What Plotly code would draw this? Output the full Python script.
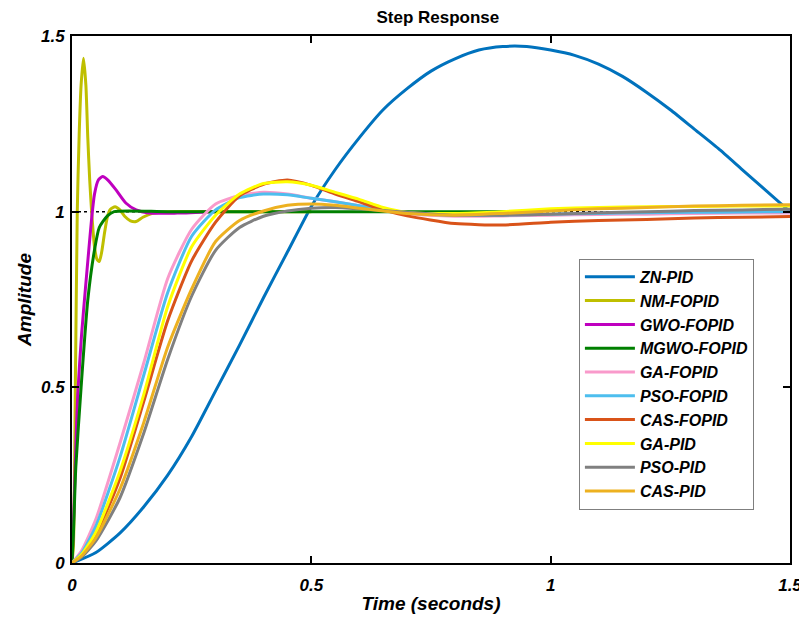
import plotly.graph_objects as go

# --- data (time in s, amplitude) ---
t_zn = [0, 0.05, 0.1, 0.15, 0.2, 0.25, 0.3, 0.35, 0.4, 0.45, 0.5, 0.55, 0.6, 0.65,
        0.7, 0.75, 0.8, 0.85, 0.9, 0.95, 1.0, 1.05, 1.1, 1.15, 1.2, 1.25, 1.3,
        1.35, 1.4, 1.45, 1.5]
zn_pid = [0, 0.03, 0.085, 0.16, 0.25, 0.36, 0.49, 0.62, 0.755, 0.885, 1.015, 1.12,
          1.21, 1.29, 1.35, 1.40, 1.435, 1.46, 1.47, 1.47, 1.46, 1.445, 1.42, 1.385,
          1.34, 1.29, 1.235, 1.18, 1.12, 1.06, 1.0]

t_nm = [0, 0.003, 0.007, 0.011, 0.015, 0.019, 0.024, 0.029, 0.033, 0.037, 0.041,
        0.047, 0.052, 0.057, 0.062, 0.068, 0.074, 0.08, 0.09, 0.1, 0.11, 0.122,
        0.134, 0.148, 0.168, 0.2, 0.3, 0.5]
nm_fopid = [0, 0.05, 0.5, 1.0, 1.22, 1.36, 1.437, 1.36, 1.21, 1.09, 1.0, 0.9, 0.865,
            0.858, 0.885, 0.94, 0.985, 1.006, 1.014, 1.005, 0.987, 0.974, 0.972,
            0.984, 0.995, 1.0, 1.0, 1.0]

t_gwo = [0, 0.004, 0.008, 0.012, 0.02, 0.028, 0.035, 0.041, 0.047, 0.055, 0.064,
         0.075, 0.092, 0.113, 0.134, 0.16, 0.22, 0.3]
gwo_fopid = [0, 0.15, 0.33, 0.48, 0.65, 0.78, 0.89, 0.98, 1.05, 1.09, 1.10, 1.09,
             1.062, 1.024, 1.005, 0.996, 0.996, 1.0]

t_mgwo = [0, 0.003, 0.008, 0.019, 0.033, 0.047, 0.057, 0.074, 0.088, 0.2, 0.5, 0.94]
mgwo_fopid = [0, 0.085, 0.274, 0.5, 0.749, 0.891, 0.955, 0.988, 1.0, 1.0, 1.0, 1.0]

t_slow = [0, 0.02, 0.05, 0.1, 0.15, 0.2, 0.25, 0.3, 0.35, 0.4, 0.45, 0.5, 0.55, 0.6,
          0.65, 0.7, 0.8, 0.9, 1.0, 1.1, 1.2, 1.3, 1.4, 1.5]
ga_fopid = [0, 0.035, 0.125, 0.34, 0.57, 0.81, 0.95, 1.022, 1.046, 1.055, 1.05, 1.038,
            1.028, 1.017, 1.005, 0.995, 0.987, 0.988, 0.99, 0.992, 0.993, 0.995,
            0.996, 0.996]
pso_fopid = [0, 0.028, 0.105, 0.30, 0.535, 0.77, 0.93, 1.005, 1.04, 1.05, 1.048, 1.038,
             1.028, 1.017, 1.006, 0.997, 0.99, 0.99, 0.993, 0.995, 0.997, 0.998,
             0.999, 1.0]
cas_fopid = [0, 0.022, 0.08, 0.24, 0.46, 0.69, 0.86, 0.97, 1.045, 1.078, 1.09, 1.075,
             1.05, 1.028, 1.005, 0.988, 0.966, 0.962, 0.97, 0.975, 0.978, 0.982,
             0.984, 0.986]
ga_pid = [0, 0.024, 0.088, 0.26, 0.48, 0.73, 0.9, 0.99, 1.05, 1.08, 1.085, 1.075,
          1.055, 1.035, 1.012, 0.998, 0.995, 1.0, 1.008, 1.012, 1.014, 1.015, 1.016,
          1.016]
pso_pid = [0, 0.017, 0.063, 0.185, 0.37, 0.58, 0.76, 0.89, 0.955, 0.987, 1.002, 1.01,
           1.012, 1.008, 1.003, 0.998, 0.99, 0.99, 0.993, 0.997, 1.0, 1.003, 1.005,
           1.007]
cas_pid = [0, 0.02, 0.072, 0.21, 0.4, 0.615, 0.78, 0.915, 0.975, 1.002, 1.018, 1.022,
           1.018, 1.01, 1.002, 0.995, 0.99, 0.995, 1.002, 1.008, 1.012, 1.016, 1.018,
           1.02]

series = [
    ("ZN-PID", t_zn, zn_pid, "#0072BD"),
    ("NM-FOPID", t_nm, nm_fopid, "#BFBF00"),
    ("GWO-FOPID", t_gwo, gwo_fopid, "#BF00BF"),
    ("MGWO-FOPID", t_mgwo, mgwo_fopid, "#008000"),
    ("GA-FOPID", t_slow, ga_fopid, "#F99ACB"),
    ("PSO-FOPID", t_slow, pso_fopid, "#4DBEEE"),
    ("CAS-FOPID", t_slow, cas_fopid, "#D95319"),
    ("GA-PID", t_slow, ga_pid, "#FFFF00"),
    ("PSO-PID", t_slow, pso_pid, "#808080"),
    ("CAS-PID", t_slow, cas_pid, "#EDB120"),
]

_FAM = "Liberation Sans, Arial, sans-serif"
_TICK = dict(family=_FAM, size=17, color="#000000", weight="bold", style="italic")
_LBL = dict(family=_FAM, size=19, color="#000000", weight="bold", style="italic")

fig = go.Figure()
for name, t, y, col in series:
    fig.add_trace(go.Scatter(
        x=t, y=y, mode="lines", name=name,
        line=dict(color=col, width=3, shape="spline", smoothing=0.6),
    ))

fig.add_hline(y=1, line=dict(color="#000000", width=1.5, dash="dot"), layer="below")

axis = dict(
    showline=True, linecolor="#000000", linewidth=2, mirror="ticks",
    ticks="inside", ticklen=7, tickwidth=1.5, tickcolor="#000000",
    showgrid=False, zeroline=False, tickfont=_TICK, automargin=False,
)

# the page body adds an 8 px offset, so the figure is 8 px smaller each way
fig.update_layout(
    width=799, height=613,
    margin=dict(l=64, r=17, t=28, b=58),
    paper_bgcolor="#ffffff", plot_bgcolor="#ffffff",
    title=dict(text="Step Response", x=0.538, xanchor="center", y=1.0,
               yanchor="top", pad=dict(t=3),
               font=dict(family=_FAM, size=17, color="#000000", weight="bold")),
    xaxis=dict(**axis, range=[0, 1.5], tickvals=[0, 0.5, 1, 1.5],
               ticktext=["0", "0.5", "1", "1.5"], ticklabelstandoff=6,
               title=dict(text="Time (seconds)", font=_LBL, standoff=2)),
    yaxis=dict(**axis, range=[0, 1.5], tickvals=[0, 0.5, 1, 1.5],
               ticktext=["0", "0.5", "1", "1.5"], ticklabelstandoff=2,
               title=dict(text="Amplitude", font=_LBL, standoff=4)),
    legend=dict(
        x=0.706, y=0.577, xanchor="left", yanchor="top",
        bgcolor="#ffffff", bordercolor="#7f7f7f", borderwidth=1,
        font=dict(family=_FAM, size=16, color="#000000", weight="bold",
                  style="italic"),
        itemwidth=50,
    ),
)

fig.write_html("out.html")
